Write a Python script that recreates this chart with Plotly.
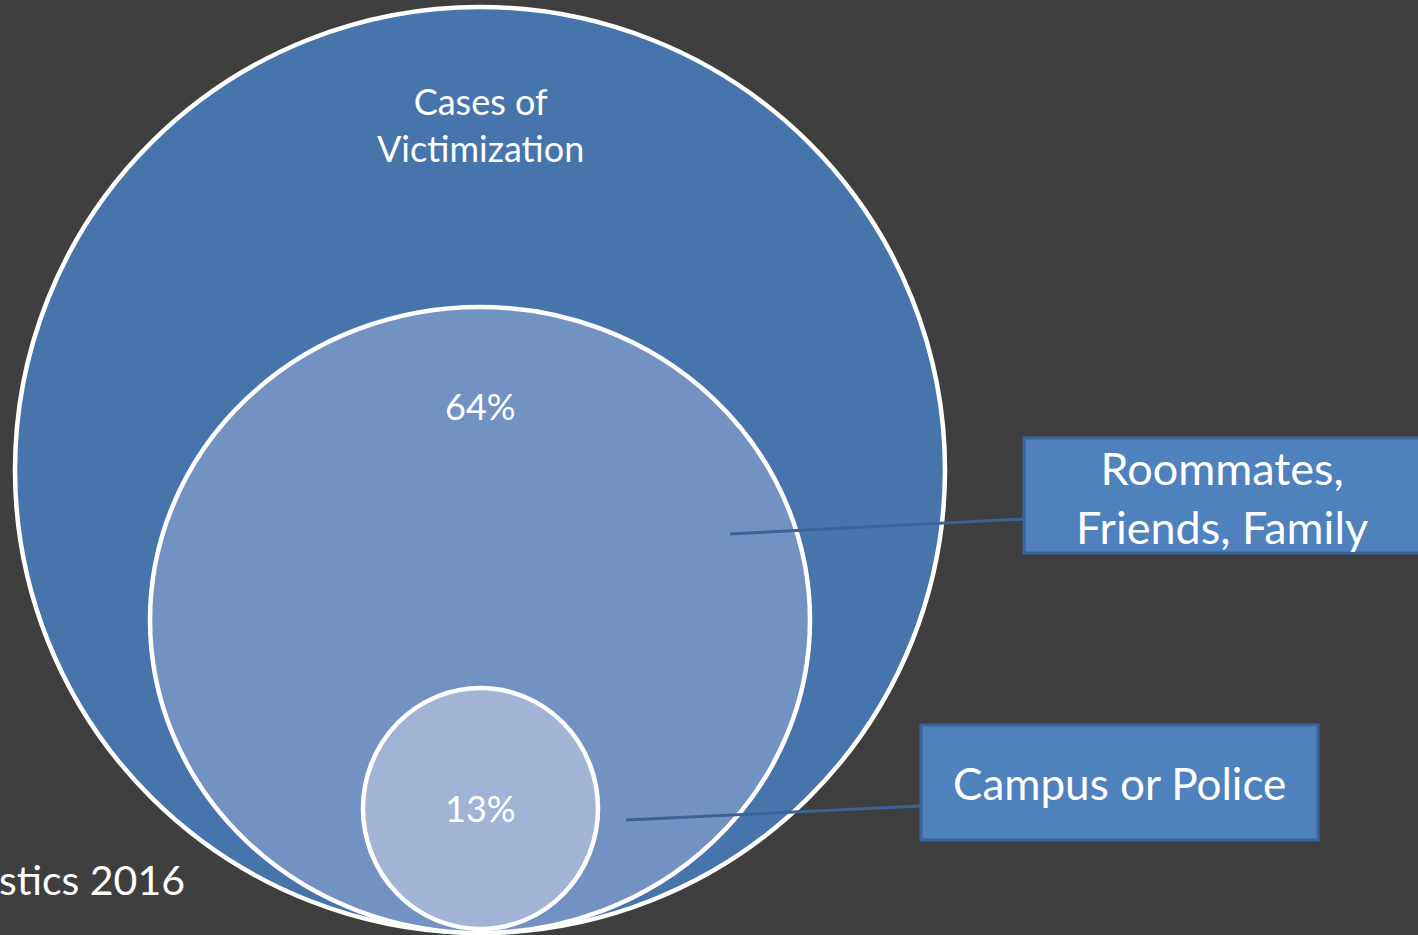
import plotly.graph_objects as go

# ---- data ----
circle_names = ["Cases of Victimization", "Roommates, Friends, Family", "Campus or Police"]
circle_values = [100, 64, 13]            # percent of cases
center_labels = ["Cases of<br>Victimization", "64%", "13%"]
callout_labels = ["Roommates,<br>Friends, Family", "Campus or Police"]
source_text = "stics 2016"

# ---- layout geometry (pixel-like coordinate system) ----
W, H = 1418, 935
BG = "#3F3F3F"
fills = ["#4674AB", "#7293C2", "#A1B4D6"]
# ellipse bounds (x0, x1, y0, y1) per circle
bounds = [(15, 945, 7, 933), (150, 810, 307, 933), (363, 598, 688, 929)]
label_pos = [(480, 124), (480, 406), (480, 808)]
box_bounds = [(1024, 1440, 438, 553), (921, 1318, 725, 840)]
leader = [((730, 534), (1024, 519)), ((626, 820), (921, 806))]
FONT = "Lato"

fig = go.Figure()
fig.add_trace(go.Scatter(x=[0, W], y=[0, H], mode="markers",
                         marker=dict(opacity=0), hoverinfo="skip", showlegend=False))

shapes = []
for (x0, x1, y0, y1), col in zip(bounds, fills):
    shapes.append(dict(type="circle", xref="x", yref="y", x0=x0, x1=x1, y0=y0, y1=y1,
                       fillcolor=col, line=dict(color="white", width=4.5), layer="below"))
for (p, q) in leader:
    shapes.append(dict(type="line", xref="x", yref="y", x0=p[0], y0=p[1], x1=q[0], y1=q[1],
                       line=dict(color="#3B6396", width=3), layer="above"))
for (x0, x1, y0, y1) in box_bounds:
    shapes.append(dict(type="rect", xref="x", yref="y", x0=x0, x1=x1, y0=y0, y1=y1,
                       fillcolor="#4F81BD", line=dict(color="#3A659A", width=3), layer="above"))

annotations = []
center_sizes = [36, 36, 36]
for (x, y), t, s in zip(label_pos, center_labels, center_sizes):
    annotations.append(dict(x=x, y=y, xref="x", yref="y", text=t, showarrow=False,
                            font=dict(family=FONT, size=s, color="white"),
                            align="center", xanchor="center", yanchor="middle"))
box_text_pos = [(1222, 497), (1119, 783)]
box_sizes = [45, 44]
for (x, y), t, s in zip(box_text_pos, callout_labels, box_sizes):
    annotations.append(dict(x=x, y=y, xref="x", yref="y", text=t, showarrow=False,
                            font=dict(family=FONT, size=s, color="white"),
                            align="center", xanchor="center", yanchor="middle"))
annotations.append(dict(x=0, y=879, xref="x", yref="y", text=source_text, showarrow=False,
                        font=dict(family=FONT, size=41, color="white"),
                        xanchor="left", yanchor="middle", xshift=-3))

fig.update_layout(
    width=W, height=H, margin=dict(l=0, r=0, t=0, b=0),
    paper_bgcolor=BG, plot_bgcolor=BG,
    xaxis=dict(range=[0, W], visible=False, fixedrange=True),
    yaxis=dict(range=[H, 0], visible=False, fixedrange=True),
    shapes=shapes, annotations=annotations, showlegend=False,
)
fig.write_html("out.html", config={"displayModeBar": False},
               post_script="document.body.style.margin='0';document.body.style.background='#3F3F3F';")
